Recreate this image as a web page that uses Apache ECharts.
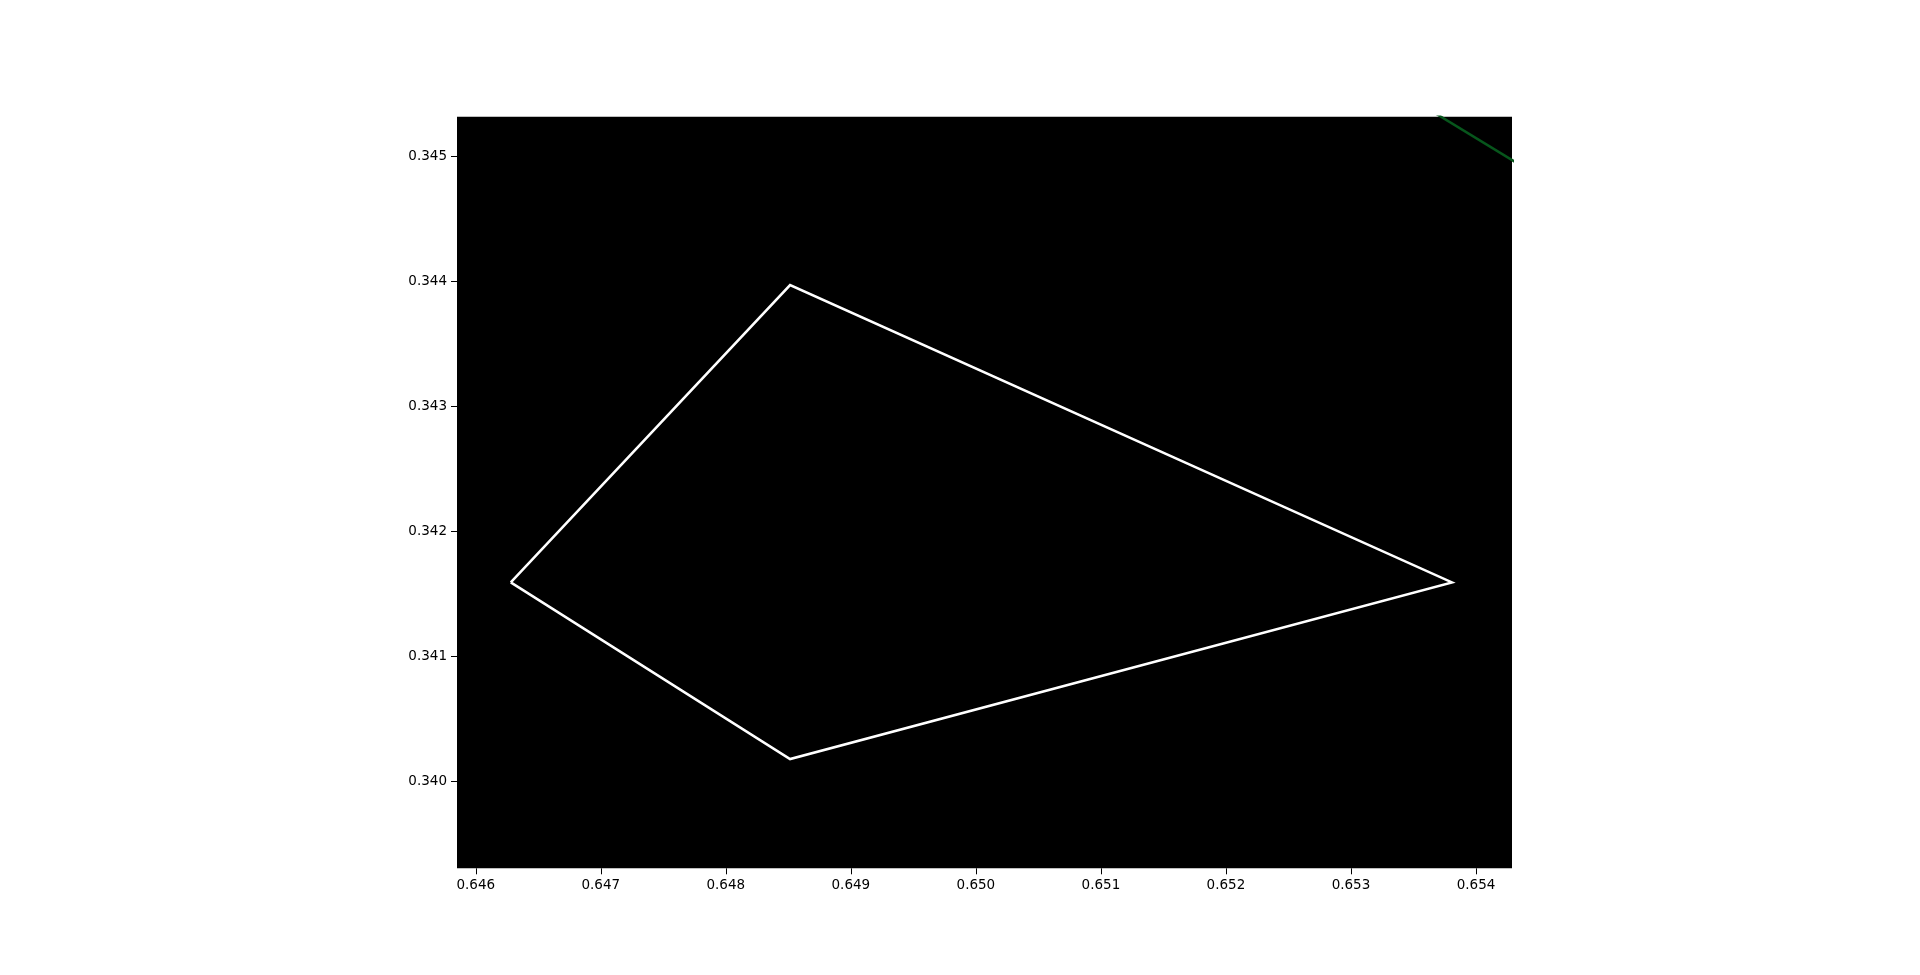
<!DOCTYPE html>
<html>
<head>
<meta charset="utf-8">
<script src="https://cdn.jsdelivr.net/npm/echarts@6/dist/echarts.min.js"></script>
<style>
html,body{margin:0;padding:0;background:#fff;}
#chart{width:1920px;height:975px;}
</style>
</head>
<body>
<div id="chart"></div>
<script>
// Polygon (closed outline) vertices
const polygonX = [0.64628, 0.648514, 0.653808, 0.648514, 0.64628];
const polygonY = [0.341591, 0.343972, 0.341591, 0.340176, 0.341591];
// Green locus segment crossing the top-right corner
const locusX = [0.6536, 0.6545];
const locusY = [0.345393, 0.344844];
// Tick labels
const xTicks = [0.646, 0.647, 0.648, 0.649, 0.650, 0.651, 0.652, 0.653, 0.654];
const yTicks = [0.340, 0.341, 0.342, 0.343, 0.344, 0.345];
// Axis limits
const xRange = [0.64585, 0.654288];
const yRange = [0.339301, 0.345320];

const pair = (xs, ys) => xs.map((x, i) => [x, ys[i]]);
const font = 'DejaVu Sans';

const chart = echarts.init(document.getElementById('chart'), null, {renderer: 'canvas'});
chart.setOption({
  animation: false,
  backgroundColor: '#ffffff',
  grid: {
    left: 457, right: 408, top: 116.7, bottom: 106.7,
    show: true, backgroundColor: '#000000', borderWidth: 0
  },
  xAxis: {
    type: 'value', min: xRange[0], max: xRange[1],
    axisLine: {show: false},
    splitLine: {show: false},
    axisTick: {show: true, length: 6, lineStyle: {color: '#000', width: 1}, customValues: xTicks},
    axisLabel: {
      customValues: xTicks, color: '#000', fontFamily: font, fontSize: 13.5, margin: 10,
      formatter: v => v.toFixed(3)
    }
  },
  yAxis: {
    type: 'value', min: yRange[0], max: yRange[1],
    axisLine: {show: false},
    splitLine: {show: false},
    axisTick: {show: true, length: 6, lineStyle: {color: '#000', width: 1}, customValues: yTicks},
    axisLabel: {
      customValues: yTicks, color: '#000', fontFamily: font, fontSize: 13.5, margin: 10,
      formatter: v => v.toFixed(3)
    }
  },
  series: [
    {
      type: 'line', data: pair(locusX, locusY), symbol: 'none', clip: true,
      lineStyle: {color: '#07561c', width: 2.5}
    },
    {
      type: 'line', data: pair(polygonX, polygonY), symbol: 'none', clip: true,
      lineStyle: {color: '#ffffff', width: 2.5, join: 'miter'}
    }
  ]
});
</script>
</body>
</html>
